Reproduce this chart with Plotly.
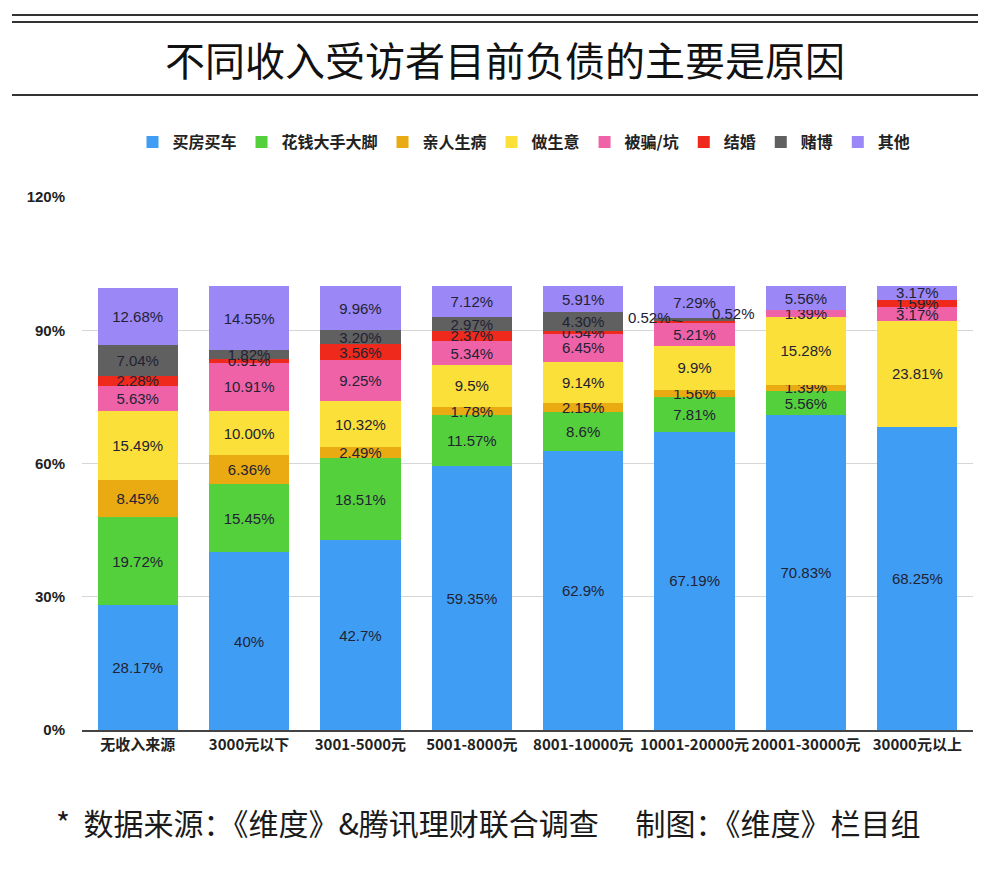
import plotly.graph_objects as go

categories = ["无收入来源", "3000元以下", "3001-5000元", "5001-8000元",
              "8001-10000元", "10001-20000元", "20001-30000元", "30000元以上"]

series_names = ["买房买车", "花钱大手大脚", "亲人生病", "做生意", "被骗/坑", "结婚", "赌博", "其他"]

buy_house_car = [28.17, 40, 42.7, 59.35, 62.9, 67.19, 70.83, 68.25]
overspending = [19.72, 15.45, 18.51, 11.57, 8.6, 7.81, 5.56, 0]
family_illness = [8.45, 6.36, 2.49, 1.78, 2.15, 1.56, 1.39, 0]
business = [15.49, 10.00, 10.32, 9.5, 9.14, 9.9, 15.28, 23.81]
scammed = [5.63, 10.91, 9.25, 5.34, 6.45, 5.21, 1.39, 3.17]
marriage = [2.28, 0.91, 3.56, 2.37, 0.54, 0.52, 0, 1.59]
gambling = [7.04, 1.82, 3.20, 2.97, 4.30, 0.52, 0, 0]
other = [12.68, 14.55, 9.96, 7.12, 5.91, 7.29, 5.56, 3.17]

label_buy = ["28.17%", "40%", "42.7%", "59.35%", "62.9%", "67.19%", "70.83%", "68.25%"]
label_over = ["19.72%", "15.45%", "18.51%", "11.57%", "8.6%", "7.81%", "5.56%", ""]
label_ill = ["8.45%", "6.36%", "2.49%", "1.78%", "2.15%", "1.56%", "1.39%", ""]
label_bus = ["15.49%", "10.00%", "10.32%", "9.5%", "9.14%", "9.9%", "15.28%", "23.81%"]
label_scam = ["5.63%", "10.91%", "9.25%", "5.34%", "6.45%", "5.21%", "1.39%", "3.17%"]
label_mar = ["2.28%", "0.91%", "3.56%", "2.37%", "0.54%", "", "", "1.59%"]
label_gam = ["7.04%", "1.82%", "3.20%", "2.97%", "4.30%", "", "", ""]
label_oth = ["12.68%", "14.55%", "9.96%", "7.12%", "5.91%", "7.29%", "5.56%", "3.17%"]

# outside labels for the thin segments of 10001-20000元
outside_labels = ["0.52%", "0.52%"]

y_ticks = [0, 30, 60, 90, 120]
y_tick_text = ["0%", "30%", "60%", "90%", "120%"]

colors = ["#3f9ef4", "#55d03d", "#e9aa12", "#fbe03a", "#ef62a8", "#ef2a1c", "#606060", "#9b87f6"]

values = [buy_house_car, overspending, family_illness, business, scammed, marriage, gambling, other]
labels = [label_buy, label_over, label_ill, label_bus, label_scam, label_mar, label_gam, label_oth]

OFF = 8  # page body margin
W, H = 1000 - OFF, 876 - OFF
L, R, T, B = 82 - OFF, 27, 197 - OFF, 146
pw, ph = W - L - R, H - T - B


def px_x(x):
    return (x - OFF - L) / pw


def px_y(y):
    return (H - B - (y - OFF)) / ph


LABEL_FONT = dict(family="Liberation Sans, Arial, sans-serif", size=15, color="#222233")

fig = go.Figure()
for name, vals, txt, col in zip(series_names, values, labels, colors):
    fig.add_trace(go.Bar(
        x=categories, y=vals, name=name, text=txt,
        marker=dict(color=col, line=dict(width=0)),
        textposition="inside", insidetextanchor="middle", textangle=0,
        textfont=LABEL_FONT,
        hoverinfo="skip", cliponaxis=False,
    ))

# positions of the thin segments in 10001-20000元
idx = 5
base = sum(v[idx] for v in values[:5])
mar_mid = base + marriage[idx] / 2
gam_mid = base + marriage[idx] + gambling[idx] / 2

annotations = [
    dict(x=categories[idx], y=mar_mid, xref="x", yref="y", text=outside_labels[0],
         showarrow=True, arrowhead=0, arrowwidth=1, arrowcolor="#222", xshift=-12,
         ax=-33, ay=-4, font=LABEL_FONT),
    dict(x=categories[idx], y=gam_mid, xref="x", yref="y", text=outside_labels[1],
         showarrow=True, arrowhead=0, arrowwidth=1, arrowcolor="#222", xshift=19,
         ax=20, ay=-6, font=LABEL_FONT),
    dict(x=px_x(54), y=px_y(822), xref="paper", yref="paper", xanchor="left", yanchor="middle",
         text="*  数据来源：《维度》&腾讯理财联合调查　 制图：《维度》栏目组", showarrow=False,
         font=dict(family="Noto Sans CJK SC", size=30, color="#1a1a1a")),
]

shapes = []
for yy in (15, 22, 95):
    shapes.append(dict(type="line", xref="paper", yref="paper",
                       x0=px_x(12), x1=px_x(978), y0=px_y(yy), y1=px_y(yy),
                       line=dict(color="#333333", width=2)))

fig.update_layout(
    width=W, height=H,
    margin=dict(l=L, r=R, t=T, b=B, pad=0),
    paper_bgcolor="white", plot_bgcolor="white",
    barmode="stack", bargap=0.28,
    uniformtext=dict(minsize=15, mode="show"),
    title=dict(text="不同收入受访者目前负债的主要是原因", x=(505 - OFF) / W, xanchor="center",
               xref="container", y=1 - (62 - OFF) / H, yanchor="middle",
               font=dict(family="Noto Sans CJK SC", size=40, color="#111111")),
    legend=dict(orientation="h", xref="container", yref="container",
                x=(524 - OFF) / W, xanchor="center", y=1 - (142 - OFF) / H, yanchor="middle",
                font=dict(family="Noto Sans CJK SC", size=16, color="#222222", weight="bold"),
                traceorder="normal", itemclick=False, itemdoubleclick=False),
    xaxis=dict(type="category", showline=True, linecolor="#444444", linewidth=1.5,
               ticks="", showgrid=False,
               tickfont=dict(family="Noto Sans CJK SC", size=15, color="#222222", weight="bold")),
    yaxis=dict(range=[0, 120], tickvals=y_ticks, ticktext=y_tick_text,
               showgrid=True, gridcolor="#d6d6d6", gridwidth=1, zeroline=False,
               ticks="", ticklabelstandoff=16,
               tickfont=dict(family="Liberation Sans, Arial, sans-serif", size=15, color="#222222", weight="bold")),
    annotations=annotations,
    shapes=shapes,
    font=dict(family="Noto Sans CJK SC"),
)

fig.write_html("out.html")
